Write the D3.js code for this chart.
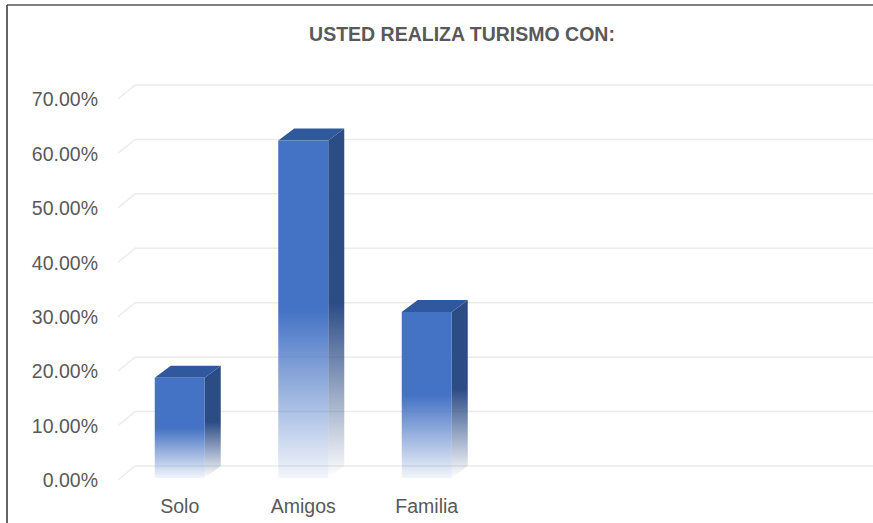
<!DOCTYPE html>
<html>
<head>
<meta charset="utf-8">
<script src="https://cdn.jsdelivr.net/npm/d3@7"></script>
<style>
html,body{margin:0;padding:0;background:#fff;}
svg{display:block;}
</style>
</head>
<body>
<svg id="chart" width="873" height="523"></svg>
<script>
// ---- data ----
const title = "USTED REALIZA TURISMO CON:";
const categories = ["Solo", "Amigos", "Familia", "", "", ""];
const values = [0.184, 0.62, 0.305, null, null, null];
const yTicks = [0, 0.1, 0.2, 0.3, 0.4, 0.5, 0.6, 0.7];

// ---- layout ----
const W = 873, H = 523;
const svg = d3.select("#chart");
const font = "'Liberation Sans', Arial, sans-serif";
const textColor = "#595959";

const depthX = 17, depthY = -14;      // wall depth
const barDX = 16, barDY = -12;        // bar depth
const barInsetY = -2;                  // bar front plane slightly behind front

const x = d3.scaleBand().domain(d3.range(categories.length)).range([118, 859]).paddingInner(0).paddingOuter(0);
const y = d3.scaleLinear().domain([0, 0.7]).range([480, 99]);

// border (cropped frame)
svg.append("line").attr("x1", 7).attr("x2", W).attr("y1", 5).attr("y2", 5)
  .attr("stroke", "#555").attr("stroke-width", 1.5);
svg.append("line").attr("x1", 7).attr("x2", 7).attr("y1", 5).attr("y2", H)
  .attr("stroke", "#333").attr("stroke-width", 1.5);

// title
svg.append("text").attr("x", 462).attr("y", 41).attr("text-anchor", "middle")
  .attr("font-family", font).attr("font-weight", "bold").attr("font-size", 19.5)
  .attr("fill", textColor).text(title);

// gridlines (3D wall)
const grid = svg.append("g");
yTicks.forEach(t => {
  const yf = y(t);
  grid.append("path")
    .attr("d", `M${x.range()[0]},${yf} L${x.range()[0] + depthX},${yf + depthY} L${W},${yf + depthY}`)
    .attr("fill", "none").attr("stroke", "#ececec").attr("stroke-width", 1.5);
});

// y axis labels
const yAxis = d3.axisLeft(y).tickValues(yTicks).tickFormat(d => (d * 100).toFixed(2) + "%").tickSize(0).tickPadding(0);
const ya = svg.append("g").attr("transform", "translate(98,0)").call(yAxis);
ya.select(".domain").remove();
ya.selectAll("text").attr("font-family", font).attr("font-size", 19.5).attr("fill", textColor).attr("dy", "0.35em");

// gradients
const defs = svg.append("defs");
const gFront = defs.append("linearGradient").attr("id", "gFront").attr("x1", 0).attr("y1", 0).attr("x2", 0).attr("y2", 1);
gFront.append("stop").attr("offset", "0").attr("stop-color", "#4472C4");
gFront.append("stop").attr("offset", "0.5").attr("stop-color", "#4472C4");
gFront.append("stop").attr("offset", "1").attr("stop-color", "#4472C4").attr("stop-opacity", 0.07);
const gSide = defs.append("linearGradient").attr("id", "gSide").attr("x1", 0).attr("y1", 0).attr("x2", 0).attr("y2", 1);
gSide.append("stop").attr("offset", "0").attr("stop-color", "#2c4c86");
gSide.append("stop").attr("offset", "0.5").attr("stop-color", "#2c4c86");
gSide.append("stop").attr("offset", "1").attr("stop-color", "#2c4c86").attr("stop-opacity", 0.0);

// bars
const barW = x.bandwidth() * 0.405;
const bars = svg.append("g");
values.forEach((v, i) => {
  if (v == null) return;
  const cx = x(i) + x.bandwidth() / 2;
  const xl = cx - barW / 2, xr = cx + barW / 2;
  const top = y(v) + barInsetY, bot = y(0) + barInsetY;
  // side
  bars.append("path")
    .attr("d", `M${xr},${top} L${xr + barDX},${top + barDY} L${xr + barDX},${bot + barDY} L${xr},${bot} Z`)
    .attr("fill", "url(#gSide)");
  // top
  bars.append("path")
    .attr("d", `M${xl},${top} L${xl + barDX},${top + barDY} L${xr + barDX},${top + barDY} L${xr},${top} Z`)
    .attr("fill", "#30589e");
  // front
  bars.append("rect").attr("x", xl).attr("y", top).attr("width", barW).attr("height", bot - top)
    .attr("fill", "url(#gFront)");
});

// x labels
const xl = svg.append("g");
categories.forEach((c, i) => {
  if (!c) return;
  xl.append("text").attr("x", x(i) + x.bandwidth() / 2).attr("y", 513)
    .attr("text-anchor", "middle").attr("font-family", font).attr("font-size", 19.5)
    .attr("fill", textColor).text(c);
});
</script>
</body>
</html>
